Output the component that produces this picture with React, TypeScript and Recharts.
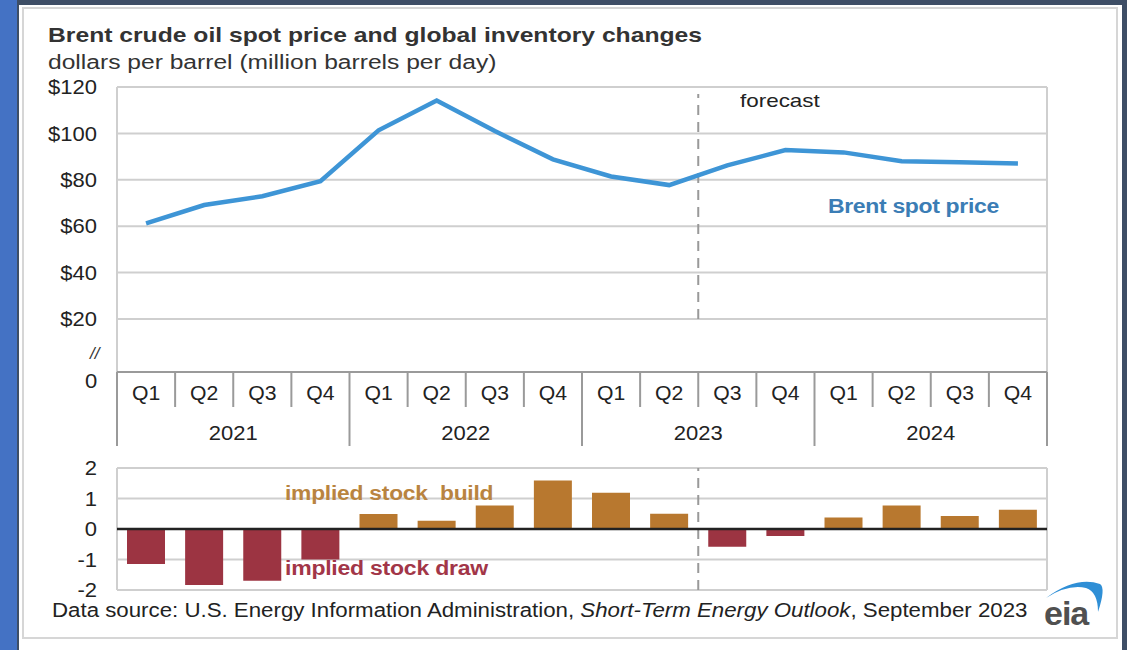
import React from 'react';
import {
  ComposedChart,
  BarChart,
  Line,
  Bar,
  Cell,
  XAxis,
  YAxis,
  CartesianGrid,
  ReferenceLine,
} from 'recharts';

// ---- data ----
const quarters = ['Q1', 'Q2', 'Q3', 'Q4', 'Q1', 'Q2', 'Q3', 'Q4', 'Q1', 'Q2', 'Q3', 'Q4', 'Q1', 'Q2', 'Q3', 'Q4'];
const years = ['2021', '2022', '2023', '2024'];
const brentPrice = [61.2, 69.1, 72.9, 79.4, 101.3, 114.2, 101.0, 88.8, 81.4, 77.7, 86.2, 92.8, 91.8, 88.0, 87.5, 87.0];
const stockChange = [-1.15, -1.84, -1.7, -1.0, 0.49, 0.27, 0.77, 1.59, 1.19, 0.5, -0.58, -0.23, 0.38, 0.77, 0.43, 0.63];
const priceTicks = [20, 40, 60, 80, 100, 120];
const stockTicks = [-2, -1, 0, 1, 2];
const forecastStart = 10.5;

const data = quarters.map((q, i) => ({
  idx: i + 1,
  quarter: q,
  year: years[Math.floor(i / 4)],
  price: brentPrice[i],
  stock: stockChange[i],
}));
const xTicks = data.map((d) => d.idx);

// ---- layout ----
const W = 1127;
const PLOT_L = 117;
const PLOT_R = 1047;
const PLOT_W = PLOT_R - PLOT_L;
const BW = PLOT_W / quarters.length;
const FONT = '"Liberation Sans", Arial, Helvetica, sans-serif';
const GRID = '#cfcfcf';
const AXIS = '#9a9a9a';
const BUILD = '#B8782F';
const DRAW = '#9C3442';

const QuarterTick = (props: any) => {
  const { x, y, payload } = props;
  const i = payload.value - 1;
  const right = x + BW / 2;
  const yearEnd = i % 4 === 3;
  return (
    <g>
      {i === 0 && (
        <line x1={x - BW / 2} x2={x - BW / 2} y1={y} y2={y + 74} stroke={AXIS} strokeWidth={2} />
      )}
      <line x1={right} x2={right} y1={y} y2={y + (yearEnd ? 74 : 35)} stroke={AXIS} strokeWidth={2} />
      <text
        transform={`translate(${x},${y + 28}) scale(1.06,1)`}
        textAnchor="middle"
        fontSize={20}
        fill="#222"
        fontFamily={FONT}
      >
        {quarters[i]}
      </text>
      {i % 4 === 1 && (
        <text
          transform={`translate(${right},${y + 68}) scale(1.1,1)`}
          textAnchor="middle"
          fontSize={20}
          fill="#222"
          fontFamily={FONT}
        >
          {years[Math.floor(i / 4)]}
        </text>
      )}
    </g>
  );
};

const makeYTick = (fmt: (v: number) => string) => (props: any) => {
  const { x, y, payload } = props;
  return (
    <text
      transform={`translate(${x},${y}) scale(1.1,1)`}
      textAnchor="end"
      dy="0.36em"
      fontSize={20}
      fill="#222"
      fontFamily={FONT}
    >
      {fmt(payload.value)}
    </text>
  );
};
const PriceTick = makeYTick((v) => `$${v}`);
const StockTick = makeYTick((v) => `${v}`);

const txt = (left: number, top: number, sx: number, extra: React.CSSProperties = {}): React.CSSProperties => ({
  position: 'absolute',
  left,
  top,
  whiteSpace: 'nowrap',
  fontFamily: FONT,
  lineHeight: 1,
  transform: `scaleX(${sx})`,
  transformOrigin: 'left top',
  ...extra,
});

export default function App() {
  return (
    <div style={{ position: 'absolute', left: 0, top: 0, width: W, height: 650, background: '#3E4E66', overflow: 'hidden' }}>
      <div style={{ position: 'absolute', left: 0, top: 0, width: 17, height: 650, background: '#4472C4' }} />
      <div style={{ position: 'absolute', left: 19, top: 5, width: 1103, height: 645, background: '#fff' }} />
      <div
        style={{
          position: 'absolute',
          left: 22,
          top: 7,
          width: 1096,
          height: 632,
          border: '2px solid #d6d6d6',
          boxSizing: 'border-box',
        }}
      />

      <div style={txt(48, 24, 1.175, { fontSize: 21, fontWeight: 'bold', color: '#333' })}>
        Brent crude oil spot price and global inventory changes
      </div>
      <div style={txt(48, 52, 1.23, { fontSize: 20, color: '#333' })}>dollars per barrel (million barrels per day)</div>

      {/* top chart: price */}
      <div style={{ position: 'absolute', left: 0, top: 0 }}>
        <ComposedChart width={W} height={452} data={data} margin={{ top: 87, right: W - PLOT_R, left: 0, bottom: 0 }}>
          <CartesianGrid vertical={false} stroke={GRID} strokeWidth={2} />
          <XAxis
            type="number"
            dataKey="idx"
            domain={[0.5, 16.5]}
            ticks={xTicks}
            interval={0}
            height={80}
            tickLine={false}
            tickSize={0}
            tickMargin={0}
            axisLine={{ stroke: AXIS, strokeWidth: 2 }}
            tick={<QuarterTick />}
          />
          <YAxis
            type="number"
            width={PLOT_L}
            domain={[-2.9, 120]}
            ticks={priceTicks}
            axisLine={false}
            tickLine={false}
            tickMargin={14}
            tick={<PriceTick />}
          />
          <ReferenceLine x={0.5} stroke={GRID} strokeWidth={2} />
          <ReferenceLine x={16.5} stroke={GRID} strokeWidth={2} />
          <ReferenceLine
            segment={[
              { x: forecastStart, y: 20 },
              { x: forecastStart, y: 117 },
            ]}
            stroke="#999"
            strokeWidth={2}
            strokeDasharray="10 7"
          />
          <Line
            type="linear"
            dataKey="price"
            stroke="#3E95D6"
            strokeWidth={4.5}
            dot={false}
            activeDot={false}
            isAnimationActive={false}
          />
        </ComposedChart>
      </div>

      <div style={txt(90, 345, 1, { fontSize: 17, color: '#333', fontStyle: 'italic' })}>//</div>
      <div style={txt(85, 371, 1.1, { fontSize: 20, color: '#222' })}>0</div>
      <div style={txt(740, 91, 1.18, { fontSize: 19, color: '#222' })}>forecast</div>
      <div style={txt(828, 196, 1.15, { fontSize: 20, color: '#3B7DB5', fontWeight: 'bold', letterSpacing: -0.3 })}>
        Brent spot price
      </div>

      {/* bottom chart: inventory changes */}
      <div style={{ position: 'absolute', left: 0, top: 450 }}>
        <BarChart width={W} height={160} data={data} margin={{ top: 18, right: W - PLOT_R, left: 0, bottom: 20 }}>
          <CartesianGrid vertical={false} stroke={GRID} strokeWidth={2} />
          <XAxis type="number" dataKey="idx" domain={[0.5, 16.5]} ticks={xTicks} hide />
          <YAxis
            type="number"
            width={PLOT_L}
            domain={[-2, 2]}
            ticks={stockTicks}
            axisLine={false}
            tickLine={false}
            tickMargin={14}
            tick={<StockTick />}
          />
          <ReferenceLine x={0.5} stroke={GRID} strokeWidth={2} />
          <ReferenceLine x={16.5} stroke={GRID} strokeWidth={2} />
          <ReferenceLine x={forecastStart} stroke="#999" strokeWidth={2} strokeDasharray="10 7" />
          <Bar dataKey="stock" barSize={38} isAnimationActive={false}>
            {data.map((d) => (
              <Cell key={d.idx} fill={d.stock >= 0 ? BUILD : DRAW} />
            ))}
          </Bar>
          <ReferenceLine y={0} stroke="#222" strokeWidth={2.5} />
        </BarChart>
      </div>

      <div style={txt(285, 483, 1.14, { fontSize: 20, color: '#B98440', fontWeight: 'bold', letterSpacing: -0.2 })}>
        implied stock&nbsp; build
      </div>
      <div style={txt(285, 558, 1.15, { fontSize: 20, color: '#A23648', fontWeight: 'bold', letterSpacing: -0.2 })}>
        implied stock draw
      </div>

      <div style={txt(52, 600, 1.113, { fontSize: 20, color: '#222' })}>
        Data source: U.S. Energy Information Administration, <i>Short-Term Energy Outlook</i>, September 2023
      </div>

      {/* eia logo */}
      <svg style={{ position: 'absolute', left: 1036, top: 570, overflow: 'visible' }} width={82} height={70}>
        <path d="M10,28 Q40,6 64,14 Q70,18 62,42 Q62,22 50,18 Q32,14 10,28 Z" fill="#2F8FD6" />
        <text x={8} y={55} fontSize={34} fontFamily={FONT} fill="#505050" fontWeight="bold" letterSpacing={-1}>
          eia
        </text>
      </svg>
    </div>
  );
}
